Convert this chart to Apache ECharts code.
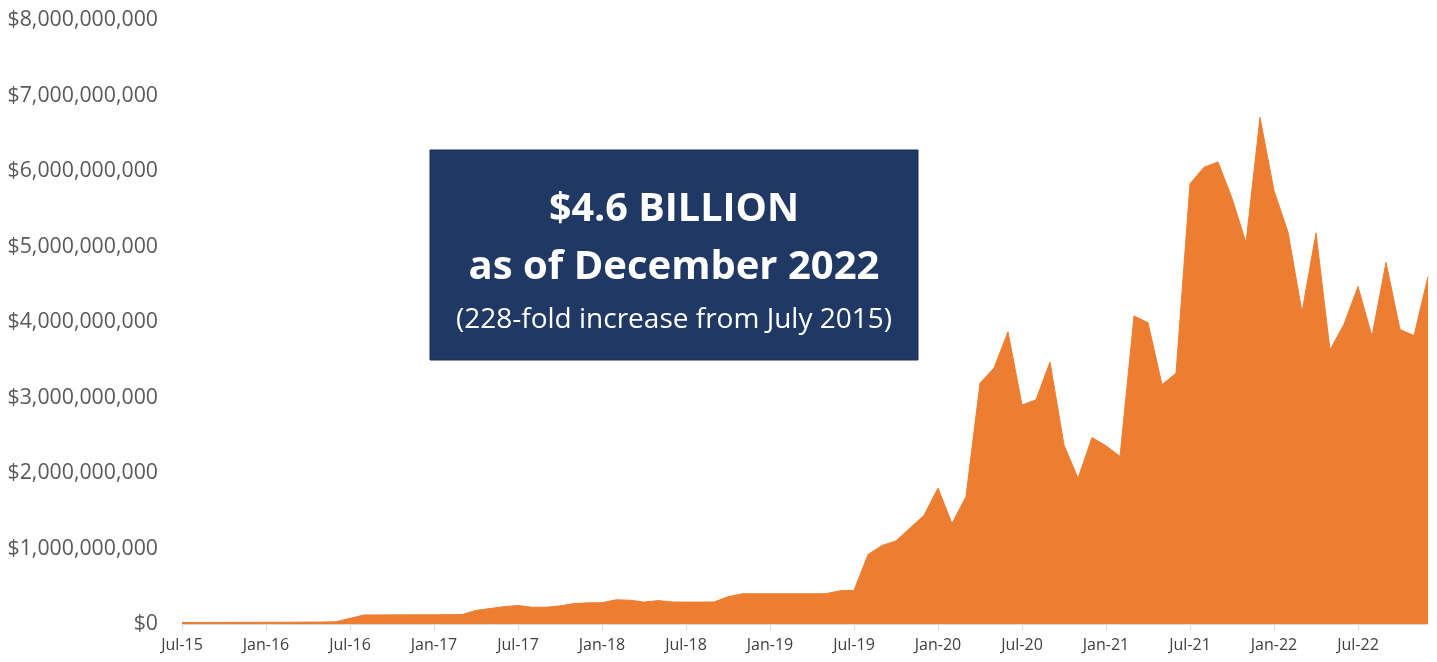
<!DOCTYPE html>
<html>
<head>
<meta charset="utf-8">
<script src="https://cdn.jsdelivr.net/npm/echarts@6/dist/echarts.min.js"></script>
<style>
  html, body { margin: 0; padding: 0; background: #ffffff; }
  #chart { width: 1437px; height: 662px; }
</style>
</head>
<body>
<div id="chart"></div>
<script>
// Monthly categories, July 2015 through December 2022
const months = [
  'Jul-15','Aug-15','Sep-15','Oct-15','Nov-15','Dec-15',
  'Jan-16','Feb-16','Mar-16','Apr-16','May-16','Jun-16',
  'Jul-16','Aug-16','Sep-16','Oct-16','Nov-16','Dec-16',
  'Jan-17','Feb-17','Mar-17','Apr-17','May-17','Jun-17',
  'Jul-17','Aug-17','Sep-17','Oct-17','Nov-17','Dec-17',
  'Jan-18','Feb-18','Mar-18','Apr-18','May-18','Jun-18',
  'Jul-18','Aug-18','Sep-18','Oct-18','Nov-18','Dec-18',
  'Jan-19','Feb-19','Mar-19','Apr-19','May-19','Jun-19',
  'Jul-19','Aug-19','Sep-19','Oct-19','Nov-19','Dec-19',
  'Jan-20','Feb-20','Mar-20','Apr-20','May-20','Jun-20',
  'Jul-20','Aug-20','Sep-20','Oct-20','Nov-20','Dec-20',
  'Jan-21','Feb-21','Mar-21','Apr-21','May-21','Jun-21',
  'Jul-21','Aug-21','Sep-21','Oct-21','Nov-21','Dec-21',
  'Jan-22','Feb-22','Mar-22','Apr-22','May-22','Jun-22',
  'Jul-22','Aug-22','Sep-22','Oct-22','Nov-22','Dec-22'
];

// Monthly value, in billions of dollars
const valueBillions = [
  0.020, 0.020, 0.021, 0.021, 0.022, 0.022,
  0.023, 0.023, 0.024, 0.025, 0.026, 0.030,
  0.075, 0.120, 0.120, 0.121, 0.121, 0.122,
  0.122, 0.123, 0.125, 0.180, 0.205, 0.230,
  0.245, 0.222, 0.222, 0.240, 0.270, 0.280,
  0.282, 0.320, 0.315, 0.290, 0.310, 0.292,
  0.290, 0.290, 0.292, 0.360, 0.400, 0.400,
  0.400, 0.400, 0.400, 0.400, 0.402, 0.440,
  0.445, 0.920, 1.040, 1.100, 1.270, 1.440,
  1.800, 1.330, 1.690, 3.190, 3.390, 3.870,
  2.900, 2.970, 3.470, 2.370, 1.930, 2.470,
  2.360, 2.220, 4.080, 3.990, 3.170, 3.320,
  5.830, 6.050, 6.120, 5.640, 5.050, 6.710,
  5.740, 5.190, 4.130, 5.180, 3.630, 3.970,
  4.470, 3.810, 4.790, 3.900, 3.820, 4.600
];

// Y axis range and step, in billions
const yMin = 0;
const yMax = 8;
const yStep = 1;

// Callout text
const calloutLines = [
  '$4.6 BILLION',
  'as of December 2022',
  '(228-fold increase from July 2015)'
];

const FONT = '"Open Sans", "Liberation Sans", sans-serif';

const chart = echarts.init(document.getElementById('chart'), null, { renderer: 'canvas' });

chart.setOption({
  animation: false,
  backgroundColor: '#ffffff',
  grid: { left: 182, right: 9, top: 20, bottom: 38, containLabel: false },
  xAxis: {
    type: 'category',
    data: months,
    boundaryGap: false,
    axisLine: { show: true, lineStyle: { color: '#d9d9d9', width: 1 } },
    axisTick: { show: true, interval: 5, length: 6, lineStyle: { color: '#d9d9d9' } },
    axisLabel: {
      interval: 5,
      margin: 13,
      color: '#404040',
      fontFamily: FONT,
      fontSize: 16
    },
    splitLine: { show: false }
  },
  yAxis: {
    type: 'value',
    min: yMin,
    max: yMax,
    interval: yStep,
    axisLine: { show: false },
    axisTick: { show: false },
    splitLine: { show: false },
    axisLabel: {
      margin: 24,
      color: '#595959',
      fontFamily: FONT,
      fontSize: 21.3,
      formatter: v => '$' + Math.round(v * 1e9).toLocaleString('en-US')
    }
  },
  series: [{
    type: 'line',
    data: valueBillions,
    symbol: 'none',
    smooth: false,
    lineStyle: { color: '#ED7D31', width: 1 },
    areaStyle: { color: '#ED7D31', opacity: 1 },
    z: 2
  }],
  graphic: [
    {
      type: 'rect',
      shape: { x: 430, y: 150, width: 488, height: 210 },
      style: { fill: '#203864', stroke: '#1a2e52', lineWidth: 1 },
      z: 10
    },
    {
      type: 'text',
      x: 674, y: 210,
      style: {
        text: calloutLines[0], fill: '#ffffff',
        font: 'bold 39.5px ' + FONT, align: 'center', verticalAlign: 'middle'
      },
      z: 11
    },
    {
      type: 'text',
      x: 674, y: 268,
      style: {
        text: calloutLines[1], fill: '#ffffff',
        font: 'bold 40px ' + FONT, align: 'center', verticalAlign: 'middle'
      },
      z: 11
    },
    {
      type: 'text',
      x: 674, y: 320,
      style: {
        text: calloutLines[2], fill: '#ffffff',
        font: '28px ' + FONT, align: 'center', verticalAlign: 'middle'
      },
      z: 11
    }
  ]
});
</script>
</body>
</html>
